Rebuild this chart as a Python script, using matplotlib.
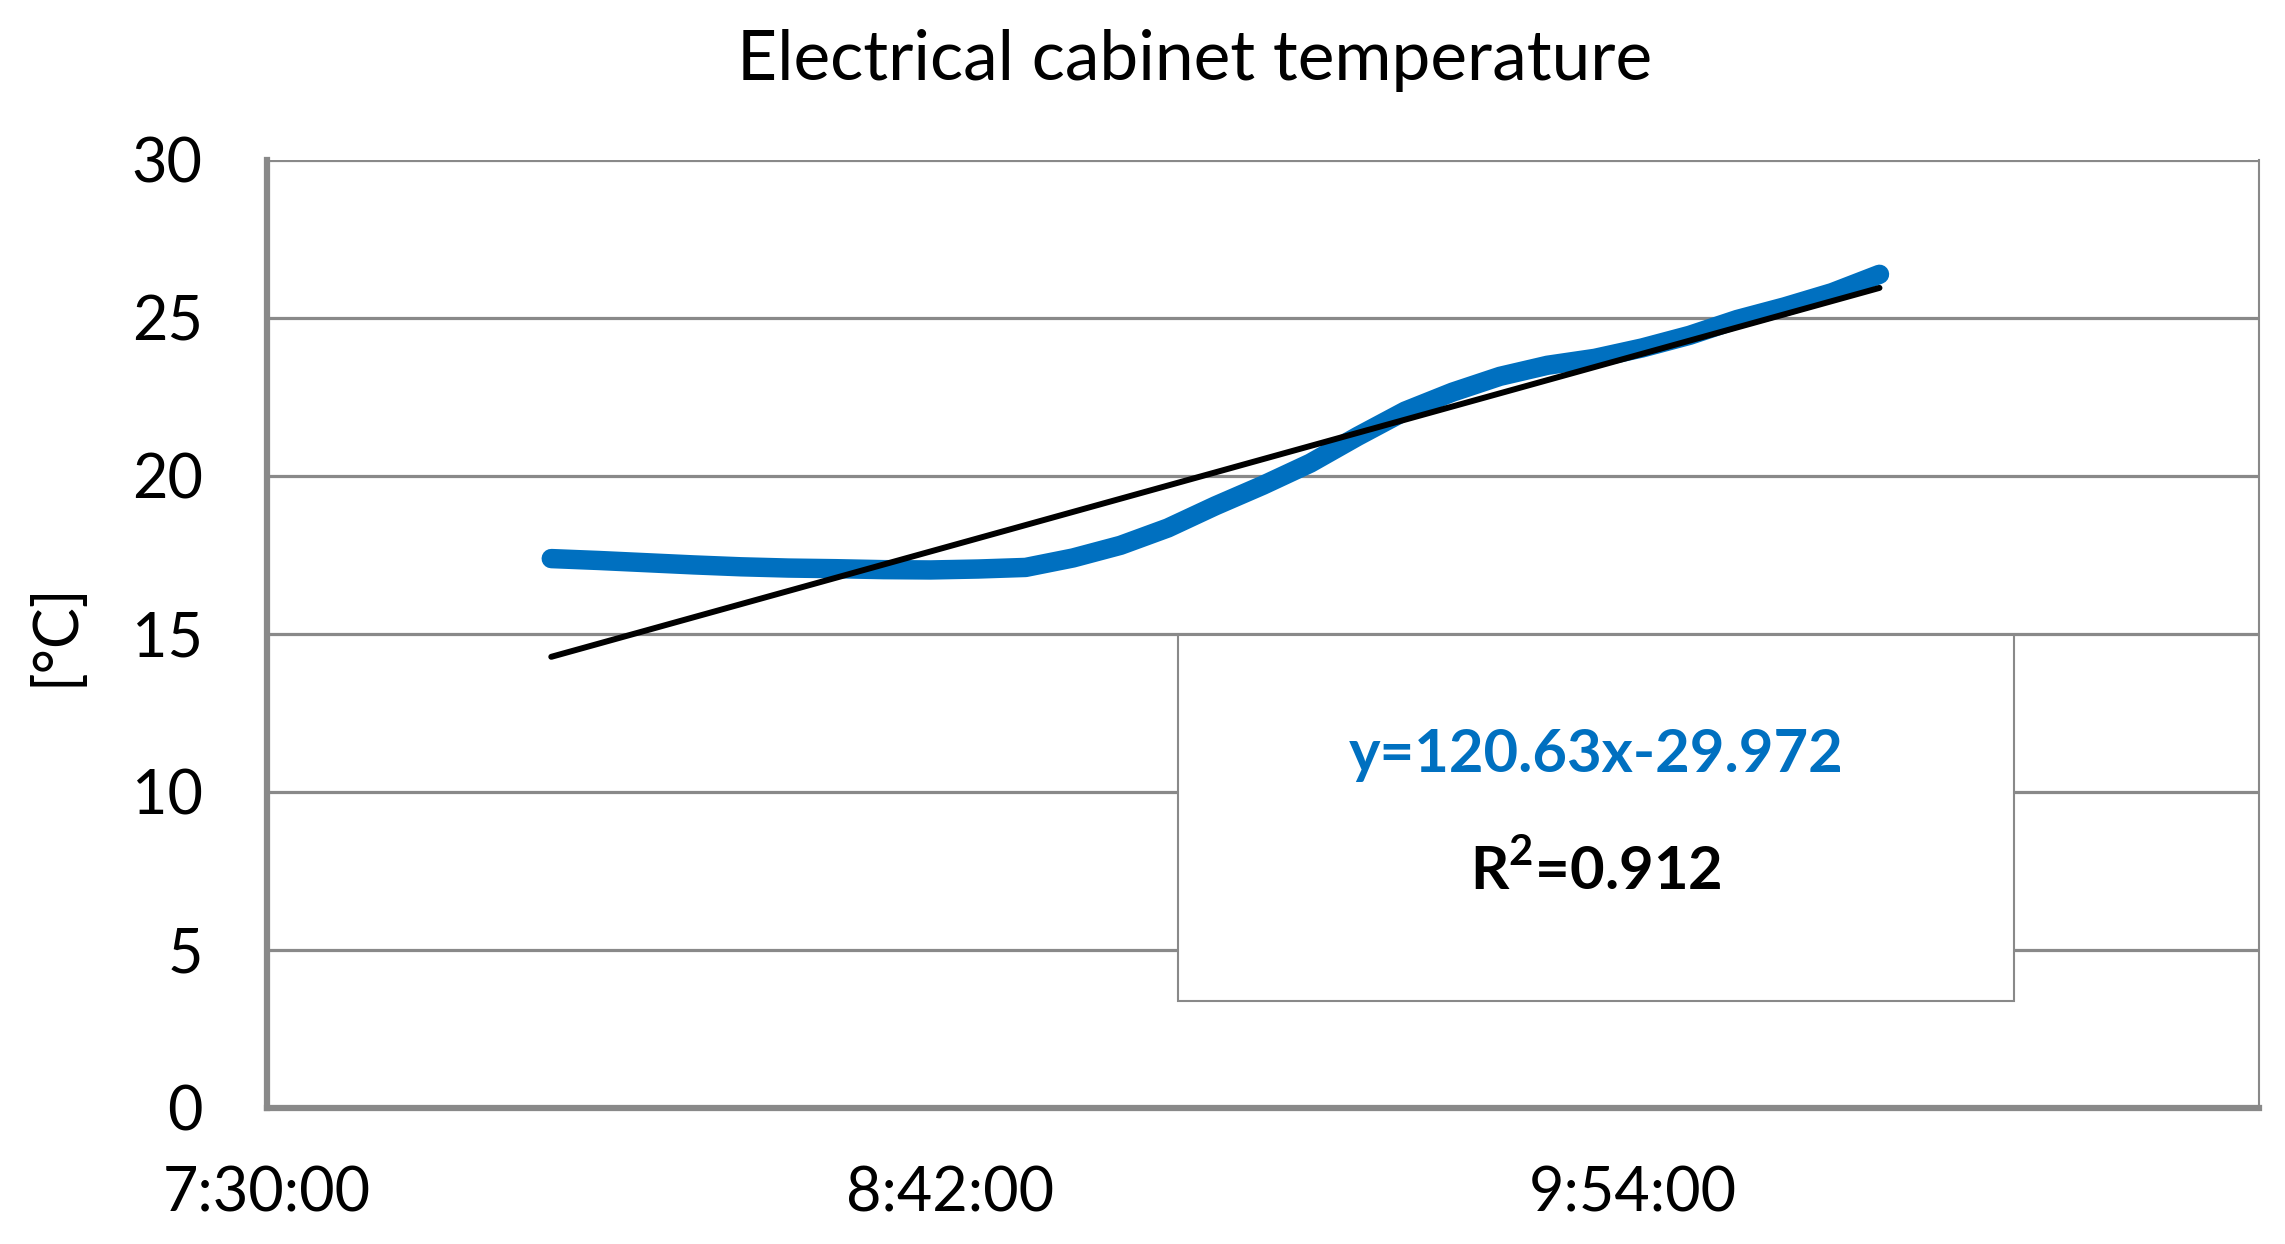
import matplotlib
matplotlib.use("Agg")
import matplotlib.pyplot as plt
from matplotlib.patches import Rectangle

plt.rcParams['font.family'] = ['Lato', 'DejaVu Sans']
plt.rcParams['mathtext.fontset'] = 'custom'
plt.rcParams['mathtext.rm'] = 'Lato:bold'
plt.rcParams['mathtext.bf'] = 'Lato:bold'

# time in minutes after 7:30:00
t_min = [30, 35, 40, 45, 50, 55, 60, 65, 70, 75, 80, 85, 90, 95, 100, 105, 110,
         115, 120, 125, 130, 135, 140, 145, 150, 155, 160, 165, 170]
temp = [17.38, 17.32, 17.25, 17.18, 17.12, 17.08, 17.06, 17.03, 17.02, 17.05, 17.10,
        17.40, 17.80, 18.35, 19.05, 19.70, 20.40, 21.25, 22.05, 22.65, 23.15, 23.50,
        23.72, 24.05, 24.45, 24.95, 25.35, 25.80, 26.38]
trend_t = [30, 170]
trend_y = [14.27, 25.95]
xtick_pos = [0, 72, 144]
xtick_labels = ["7:30:00", "8:42:00", "9:54:00"]
yticks = [0, 5, 10, 15, 20, 25, 30]
title = "Electrical cabinet temperature"
eq_text = "y=120.63x-29.972"
r2_text = r"R$^{\mathbf{2}}$=0.912"

fig = plt.figure(figsize=(22.85, 12.44), dpi=100)
ax = fig.add_axes([0.1167, 0.1097, 0.8719, 0.7617])

grid_c = "#898989"
ax.set_xlim(0, 210)
ax.set_ylim(0, 30)
ax.set_yticks(yticks)
ax.set_yticklabels([str(v) for v in yticks])
ax.set_xticks(xtick_pos)
ax.set_xticklabels(xtick_labels)
ax.yaxis.grid(True, color=grid_c, linewidth=2.3)
ax.set_axisbelow(True)
ax.spines['top'].set_visible(False)
ax.spines['right'].set_color(grid_c)
ax.spines['right'].set_linewidth(1.5)
ax.spines['left'].set_color(grid_c)
ax.spines['left'].set_linewidth(4.5)
ax.spines['bottom'].set_color(grid_c)
ax.spines['bottom'].set_linewidth(4.5)
ax.tick_params(axis='both', length=0, labelsize=44)
ax.tick_params(axis='y', pad=46)
ax.tick_params(axis='x', pad=42)

ax.plot(t_min, temp, color="#0070C0", linewidth=14, solid_capstyle='round',
        solid_joinstyle='round', zorder=3)
ax.plot(trend_t, trend_y, color="black", linewidth=4.3, solid_capstyle='round', zorder=4)

box = Rectangle((0.4576, 0.112), 0.4194, 0.387, transform=ax.transAxes,
                facecolor="white", edgecolor=grid_c, linewidth=1.5, zorder=5)
ax.add_patch(box)
bx = 0.4576 + 0.4194 / 2
ax.text(bx, 0.372, eq_text, transform=ax.transAxes, ha='center', va='center',
        fontsize=43, fontweight='bold', color="#0070C0", zorder=6)
ax.text(bx, 0.251, r2_text, transform=ax.transAxes, ha='center', va='center',
        fontsize=43, fontweight='bold', color="black", zorder=6)

ax.set_ylabel("[°C]", fontsize=44, labelpad=34)
fig.text(0.523, 0.951, title, ha='center', va='center', fontsize=50)

fig.savefig("out.png", dpi=100)
